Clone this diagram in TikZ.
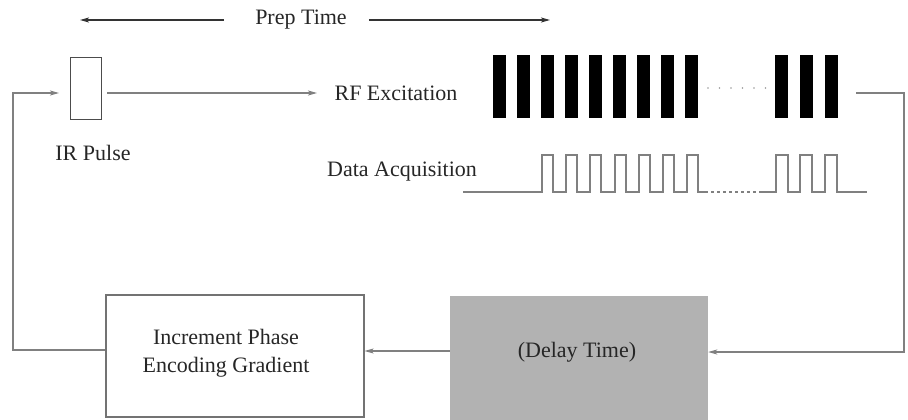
\documentclass[tikz,border=0pt]{standalone}
\usepackage{fontspec}
\setmainfont{Liberation Serif}
\usetikzlibrary{arrows.meta}
\begin{document}
\begin{tikzpicture}[x=1pt,y=-1pt,
  lbl/.style={font=\fontsize{22}{28}\selectfont, text=black!85, inner sep=0pt},
  conn/.style={draw=black!50, line width=1.1pt},
  arr/.style={conn, -{Stealth[length=9pt,width=5pt,inset=2pt]}},
  wave/.style={draw=black!50, line width=1.1pt},
  box/.style={draw=black!55, line width=1.1pt, minimum width=258pt, minimum height=122pt, inner sep=0pt}]
\useasboundingbox (0,0) rectangle (908,420);

% Prep time
\node[lbl] (prep) at (301,20) {Prep Time};
\coordinate (pl) at (80,20);
\coordinate (pr) at (550,20);
\draw[arr, draw=black!80] ([xshift=-31pt]prep.west) -- (pl);
\draw[arr, draw=black!80] ([xshift=22pt]prep.east) -- (pr);

% IR pulse
\node[draw=black!70, line width=1pt, minimum width=31pt, minimum height=62pt, inner sep=0pt] (ir) at (85.5,88.5) {};
\node[lbl] (irl) at (93,153) {IR Pulse};

% RF excitation
\node[lbl] (rf) at (396,93) {RF Excitation};
\coordinate (irout) at (107,93);
\coordinate (rfin) at (317,93);
\draw[arr] (irout) -- (rfin);

\foreach \i in {0,...,8} \fill (493+24*\i,55) rectangle ++(12.5,63);
\foreach \x in {775,800,825} \fill (\x,55) rectangle ++(13,63);
\foreach \x in {708,719.5,...,766} \fill[black!40] (\x,88) circle (0.9);

% Data acquisition
\node[lbl] (daq) at (402,172) {Data Acquisition};
\draw[wave] (463,192) \foreach \r in {542,566,590,615,639,663,687} { -- (\r,192) -- (\r,155) -- (\r+11,155) -- (\r+11,192) } -- (705,192);
\draw[wave, dash pattern=on 3pt off 3pt] (705,192) -- (762,192);
\draw[wave] (762,192) \foreach \r in {776,800,825} { -- (\r,192) -- (\r,155) -- (\r+12,155) -- (\r+12,192) } -- (867,192);

% Boxes
\node[box] (incbox) at (235,356) {};
\node[lbl, align=center] (inc) at (226,353) {Increment Phase\\Encoding Gradient};
\node[fill=black!30, minimum width=258pt, minimum height=124pt, inner sep=0pt] (delaybox) at (579,358) {};
\node[lbl] (delay) at (577,352) {(Delay Time)};

% Loop connectors
\coordinate (r1) at (856,93);
\coordinate (r2) at (904,93);
\coordinate (r3) at (904,352);
\draw[arr] (r1) -- (r2) -- (r3) -- (delaybox.east |- r3);

\coordinate (ya) at (400,351);
\draw[arr] (delaybox.west |- ya) -- (incbox.east |- ya);

\coordinate (lc1) at (13,350);
\coordinate (lc2) at (13,93);
\coordinate (irin) at (59,93);
\draw[arr] (incbox.west |- lc1) -- (lc1) -- (lc2) -- (irin);
\end{tikzpicture}
\end{document}
